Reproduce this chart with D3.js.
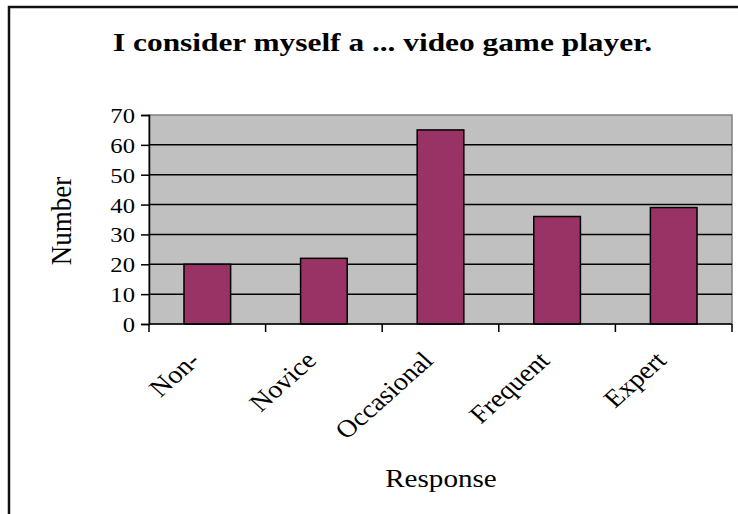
<!DOCTYPE html>
<html>
<head>
<meta charset="utf-8">
<script src="https://cdn.jsdelivr.net/npm/d3@7"></script>
<style>
  html, body { margin: 0; padding: 0; background: #fff; }
  svg { display: block; }
  text { font-family: "Liberation Serif", "Times New Roman", serif; fill: #000; }
</style>
</head>
<body>
<svg id="chart" width="738" height="514"></svg>
<script>
// Survey responses: how respondents rate themselves as video game players
const categories = ["Non-", "Novice", "Occasional", "Frequent", "Expert"];
const counts = [20, 22, 65, 36, 39];
const yTicks = [0, 10, 20, 30, 40, 50, 60, 70];
const titleText = "I consider myself a ... video game player.";
const xTitle = "Response";
const yTitle = "Number";

// Text is drawn slightly wide, as in the original chart export
const stretch = 1.12;

const svg = d3.select("#chart");

const plot = { left: 149, right: 732, top: 115, bottom: 324 };

const x = d3.scaleBand()
  .domain(categories)
  .range([plot.left, plot.right])
  .paddingInner(0.6)
  .paddingOuter(0.3);

const y = d3.scaleLinear()
  .domain([0, 70])
  .range([plot.bottom, plot.top]);

// Outer chart frame (runs past the right and bottom edges)
svg.append("path")
  .attr("d", "M9,760 L9,7 L760,7")
  .attr("fill", "none")
  .attr("stroke", "#111")
  .attr("stroke-width", 2.5);

// Title
svg.append("text")
  .attr("x", 113)
  .attr("y", 51)
  .attr("font-size", 26)
  .attr("font-weight", "bold")
  .attr("textLength", 539)
  .attr("lengthAdjust", "spacingAndGlyphs")
  .text(titleText);

// Plot background
svg.append("rect")
  .attr("x", plot.left)
  .attr("y", plot.top)
  .attr("width", plot.right - plot.left)
  .attr("height", plot.bottom - plot.top)
  .attr("fill", "#c0c0c0")
  .attr("stroke", "#808080")
  .attr("stroke-width", 1.5);

// Horizontal gridlines
svg.append("g")
  .selectAll("line")
  .data(yTicks.filter(d => d > 0 && d < 70))
  .join("line")
  .attr("x1", plot.left)
  .attr("x2", plot.right)
  .attr("y1", d => y(d))
  .attr("y2", d => y(d))
  .attr("stroke", "#000")
  .attr("stroke-width", 1.5);

// Bars
svg.append("g")
  .selectAll("rect")
  .data(categories.map((c, i) => ({ c, v: counts[i] })))
  .join("rect")
  .attr("x", d => x(d.c))
  .attr("y", d => y(d.v))
  .attr("width", x.bandwidth())
  .attr("height", d => y(0) - y(d.v))
  .attr("fill", "#993366")
  .attr("stroke", "#000")
  .attr("stroke-width", 1.5);

// Y axis
const yAxis = svg.append("g")
  .attr("transform", `translate(${plot.left},0)`)
  .call(d3.axisLeft(y).tickValues(yTicks).tickSize(8).tickSizeOuter(8).tickPadding(0).tickFormat(() => ""));
yAxis.select(".domain").attr("stroke", "#000").attr("stroke-width", 1.5);
yAxis.selectAll(".tick line").attr("stroke", "#000").attr("stroke-width", 1.5);
yAxis.selectAll(".tick")
  .append("text")
  .attr("text-anchor", "end")
  .attr("dy", "0.34em")
  .attr("font-size", 22)
  .attr("fill", "#000")
  .attr("transform", `translate(-14,0) scale(${stretch},1)`)
  .text(d => d);

// X axis: baseline with ticks at category boundaries
const step = x.step();
const boundaries = d3.range(categories.length + 1).map(i => plot.left + i * step);
svg.append("line")
  .attr("x1", plot.left).attr("x2", plot.right)
  .attr("y1", plot.bottom).attr("y2", plot.bottom)
  .attr("stroke", "#000").attr("stroke-width", 1.5);
svg.append("g")
  .selectAll("line")
  .data(boundaries)
  .join("line")
  .attr("x1", d => d).attr("x2", d => d)
  .attr("y1", plot.bottom).attr("y2", plot.bottom + 8)
  .attr("stroke", "#000").attr("stroke-width", 1.5);

// Category labels, rotated
svg.append("g")
  .selectAll("text")
  .data(categories)
  .join("text")
  .attr("text-anchor", "end")
  .attr("font-size", 25)
  .attr("transform", d =>
    `translate(${x(d) + x.bandwidth() / 2 - 6},${plot.bottom + 38}) scale(${stretch},1) rotate(-45)`)
  .text(d => d);

// Axis titles
svg.append("text")
  .attr("transform", `translate(441,487) scale(${stretch},1)`)
  .attr("text-anchor", "middle")
  .attr("font-size", 26)
  .text(xTitle);

svg.append("text")
  .attr("transform", `translate(71,221) scale(${stretch},1) rotate(-90)`)
  .attr("text-anchor", "middle")
  .attr("font-size", 27)
  .text(yTitle);
</script>
</body>
</html>
